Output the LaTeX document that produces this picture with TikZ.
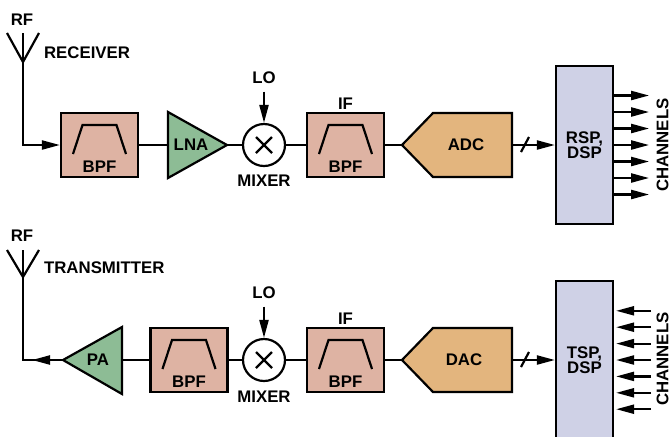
\documentclass[tikz,border=0pt]{standalone}
\usepackage{fontspec}
\setmainfont{Liberation Sans}
\usetikzlibrary{arrows.meta,calc}
\definecolor{filtfill}{RGB}{222,179,163}
\definecolor{ampfill}{RGB}{141,188,149}
\definecolor{convfill}{RGB}{227,181,126}
\definecolor{dspfill}{RGB}{207,209,230}
\begin{document}
\begin{tikzpicture}[x=0.5pt, y=-0.5pt, line width=1.1pt,
		every node/.style={font=\bfseries\fontsize{8.4}{7.6}\selectfont, inner sep=0pt},
		filt/.style={draw, fill=filtfill, minimum width=38.5pt, minimum height=32pt},
		mix/.style={draw, circle, fill=white, minimum size=21pt},
		dsp/.style={draw, fill=dspfill, minimum width=28.5pt, minimum height=79pt, align=center},
		arr/.style={-{Triangle[length=9pt,width=4.5pt]}}]
		\useasboundingbox (0,0) rectangle (670,436);
		% receiver
		\node (rf1) at (22,20) {RF};
		\node[anchor=west] (rx) at (43,52.5) {RECEIVER};
		\coordinate (ant1) at (23,62);
		\coordinate (ant1top) at (23,33);
		\coordinate (c1) at (23,145);
		\node[filt] (bpf1) at (99.5,145) {};
		\draw[fill=ampfill] (168,112) -- (227,145) -- (168,178) -- cycle;
		\coordinate (lnain) at (168,145);
		\coordinate (lnaout) at (227,145);
		\node (lna) at (191,145) {LNA};
		\node[mix] (mix1) at (264,145) {};
		\node (lo1) at (264,77.5) {LO};
		\node (mixlbl1) at (264,181) {MIXER};
		\node[filt] (if1) at (345.5,145) {};
		\node (iflbl1) at (345.5,103.5) {IF};
		\draw[fill=convfill] (402,145) -- (433,113) -- (512,113) -- (512,177) -- (433,177) -- cycle;
		\coordinate (adcin) at (402,145);
		\coordinate (adcout) at (512,145);
		\node (adc) at (466,145) {ADC};
		\node[dsp] (rsp) at (584.5,145) {RSP,\\DSP};
		\node[rotate=90] (ch1) at (662.5,145) {CHANNELS};
		\draw (7,33) -- (ant1) -- (39,33);
		\draw[arr] (ant1top) -- (c1) -- (bpf1.west);
		\draw (bpf1.east) -- (lnain);
		\draw (lnaout) -- (mix1.west);
		\draw[arr, shorten <=3.5pt] (lo1.south) -- (mix1.north);
		\draw (mix1.east) -- (if1.west);
		\draw (if1.east) -- (adcin);
		\draw[arr] (adcout) -- (rsp.west);
		\draw ($(adcout)+(9,7)$) -- ++(8,-15);
		\foreach \k in {-3,...,3}
			\draw[arr] ($(rsp.east)+(0,16.5*\k)$) -- ++(35,0);
		% transmitter
		\node (rf2) at (22,235.5) {RF};
		\node[anchor=west] (tx) at (43,267.5) {TRANSMITTER};
		\coordinate (ant2) at (23,277);
		\coordinate (ant2top) at (23,250);
		\coordinate (c2) at (23,360);
		\draw[fill=ampfill] (122,327) -- (63,360) -- (122,394) -- cycle;
		\coordinate (pain) at (122,360);
		\coordinate (paout) at (63,360);
		\node (pa) at (98,360) {PA};
		\node[filt] (bpf2) at (189,360) {};
		\node[mix] (mix2) at (264,360) {};
		\node (lo2) at (264,292.5) {LO};
		\node (mixlbl2) at (264,397) {MIXER};
		\node[filt] (if2) at (345.5,360) {};
		\node (iflbl2) at (345.5,318.5) {IF};
		\draw[fill=convfill] (402,360) -- (433,328) -- (512,328) -- (512,392) -- (433,392) -- cycle;
		\coordinate (dacin) at (402,360);
		\coordinate (dacout) at (512,360);
		\node (dac) at (464,360) {DAC};
		\node[dsp] (tsp) at (584.5,360) {TSP,\\DSP};
		\node[rotate=90] (ch2) at (662.5,359) {CHANNELS};
		\draw (7,250) -- (ant2) -- (39,250);
		\draw (paout) -- (c2) -- (ant2top);
		\draw[arr] (paout) -- ($(c2)+(9,0)$);
		\draw (bpf2.west) -- (pain);
		\draw (bpf2.east) -- (mix2.west);
		\draw[arr, shorten <=3.5pt] (lo2.south) -- (mix2.north);
		\draw (mix2.east) -- (if2.west);
		\draw (if2.east) -- (dacin);
		\draw[arr] (dacout) -- (tsp.west);
		\draw ($(dacout)+(9,7)$) -- ++(8,-15);
		\foreach \k in {-3,...,3}
			\draw[arr] ($(tsp.east)+(37,16.4*\k)$) -- ++(-35,0);
		% mixer crosses and filter marks
		\foreach \m in {mix1,mix2} {
			\draw ($(\m)+(-8,-8)$) -- ($(\m)+(8,8)$);
			\draw ($(\m)+(-8,8)$) -- ($(\m)+(8,-8)$);
		}
		\foreach \f in {bpf1,if1,bpf2,if2} {
			\draw ($(\f)+(-26.5,9)$) -- ($(\f)+(-17,-20)$) -- ($(\f)+(17,-20)$) -- ($(\f)+(26.5,9)$);
			\node (\f-lbl) at ($(\f)+(0,21.5)$) {BPF};
		}
	\end{tikzpicture}
\end{document}
